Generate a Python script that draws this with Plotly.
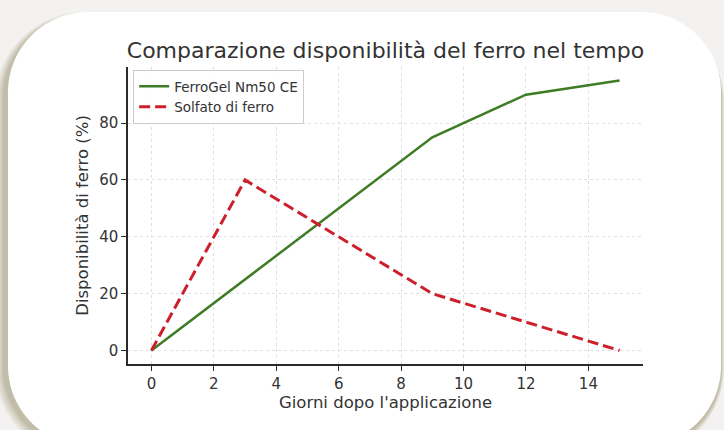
import plotly.graph_objects as go

# ---- data ----
giorni = [0, 3, 6, 9, 12, 15]
ferrogel = [0, 25, 50, 75, 90, 95]
solfato = [0, 60, 40, 20, 10, 0]
x_ticks = [0, 2, 4, 6, 8, 10, 12, 14]
y_ticks = [0, 20, 40, 60, 80]

W, H = 724, 430
L, R, T, B = 128, 81, 67, 66
PW, PH = W - L - R, H - T - B


def px(x):
    return (x - L) / PW


def py(y):
    return (H - B - y) / PH


def rounded_rect(x0, y0, x1, y1, r):
    k = 0.5523 * r
    pts = [
        f"M {px(x0 + r)} {py(y0)}",
        f"L {px(x1 - r)} {py(y0)}",
        f"C {px(x1 - r + k)} {py(y0)} {px(x1)} {py(y0 + r - k)} {px(x1)} {py(y0 + r)}",
        f"L {px(x1)} {py(y1 - r)}",
        f"C {px(x1)} {py(y1 - r + k)} {px(x1 - r + k)} {py(y1)} {px(x1 - r)} {py(y1)}",
        f"L {px(x0 + r)} {py(y1)}",
        f"C {px(x0 + r - k)} {py(y1)} {px(x0)} {py(y1 - r + k)} {px(x0)} {py(y1 - r)}",
        f"L {px(x0)} {py(y0 + r)}",
        f"C {px(x0)} {py(y0 + r - k)} {px(x0 + r - k)} {py(y0)} {px(x0 + r)} {py(y0)}",
        "Z",
    ]
    return " ".join(pts)


shapes = []
# soft shadow
for i, op in enumerate([0.10, 0.10, 0.12, 0.15, 0.18]):
    s = 10 - 2 * i
    shapes.append(dict(
        type="path", xref="paper", yref="paper", layer="below",
        path=rounded_rect(8 - 3 - s, 12 + 4 - s * 0.4, 722 - 1 + s * 0.3, 448 + s, 80 + s),
        fillcolor=f"rgba(150,138,100,{op})", line=dict(width=0),
    ))
# card
shapes.append(dict(
    type="path", xref="paper", yref="paper", layer="below",
    path=rounded_rect(8, 12, 721, 446, 80),
    fillcolor="#ffffff", line=dict(width=0),
))

fig = go.Figure()
fig.add_trace(go.Scatter(
    x=giorni, y=ferrogel, mode="lines", name="FerroGel Nm50 CE",
    line=dict(color="#3e7c25", width=2.5),
))
fig.add_trace(go.Scatter(
    x=giorni, y=solfato, mode="lines", name="Solfato di ferro",
    line=dict(color="#cc1f2b", width=3, dash="11px,5px"),
))

font = "DejaVu Sans, Arial, sans-serif"
axis_common = dict(
    showline=True, linecolor="#2b2b2b", linewidth=1.5, mirror=False,
    ticks="outside", ticklen=5, tickwidth=1.2, tickcolor="#2b2b2b",
    showgrid=True, gridcolor="#e0e0e0", gridwidth=1, griddash="dot",
    zeroline=False, tickfont=dict(family=font, size=15, color="#333333"),
    automargin=False,
)

fig.update_layout(
    width=W, height=H,
    margin=dict(l=L, r=R, t=T, b=B, autoexpand=False),
    paper_bgcolor="#f3f2f0",
    plot_bgcolor="rgba(0,0,0,0)",
    shapes=shapes,
    title=dict(
        text="Comparazione disponibilità del ferro nel tempo",
        x=0.5, xref="paper", xanchor="center",
        y=1 - 50 / H, yref="container", yanchor="middle",
        font=dict(family=font, size=22, color="#333333"),
        automargin=False,
    ),
    xaxis=dict(
        axis_common, range=[-0.75, 15.75], tickvals=x_ticks,
        title=dict(text="Giorni dopo l'applicazione", standoff=4,
                   font=dict(family=font, size=16.5, color="#333333")),
    ),
    yaxis=dict(
        axis_common, range=[-4.75, 99.75], tickvals=y_ticks,
        title=dict(text="Disponibilità di ferro (%)", standoff=6,
                   font=dict(family=font, size=16.5, color="#333333")),
    ),
    legend=dict(
        x=0.01, y=0.99, xanchor="left", yanchor="top",
        bgcolor="rgba(255,255,255,0.85)", bordercolor="#cccccc", borderwidth=1,
        font=dict(family=font, size=13.5, color="#333333"),
        tracegroupgap=0, itemwidth=30,
    ),
    showlegend=True,
)

fig.write_html(
    "out.html",
    config={"displayModeBar": False},
    post_script="document.body.style.margin='0';document.body.style.background='#f3f2f0';",
)
